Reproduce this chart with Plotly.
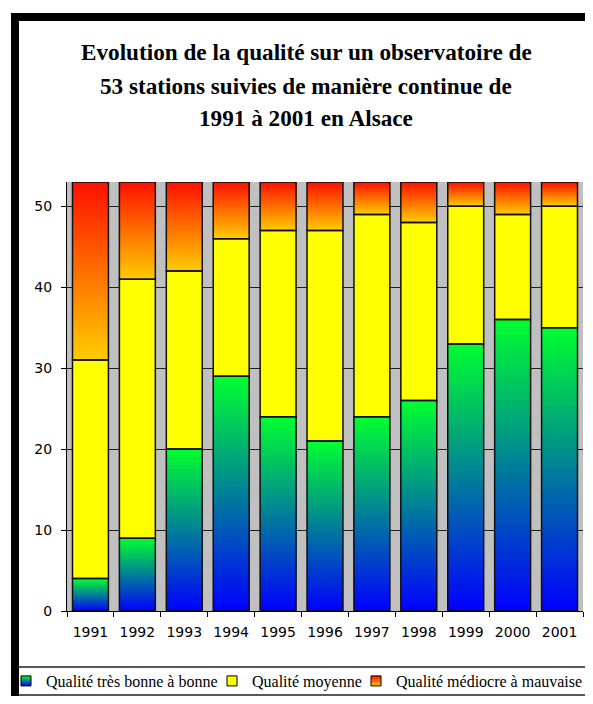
import plotly.graph_objects as go

years = ["1991", "1992", "1993", "1994", "1995", "1996", "1997", "1998", "1999", "2000", "2001"]
good = [4, 9, 20, 29, 24, 21, 24, 26, 33, 36, 35]
medium = [27, 32, 22, 17, 23, 26, 25, 22, 17, 13, 15]
poor = [22, 12, 11, 7, 6, 6, 4, 5, 3, 4, 3]
names = ["Qualité très bonne à bonne", "Qualité moyenne", "Qualité médiocre à mauvaise"]
title_lines = ["Evolution de la qualité sur un observatoire de",
               "53 stations suivies de manière continue de",
               "1991 à 2001 en Alsace"]

# page has an 8px body margin: figure is drawn at (8, 8); keep it inside the window
OFF = 8
W, H = 593 - OFF, 704 - 2 * OFF
L = 67 - OFF
R = W - (583 - OFF)
T = 182 - OFF
B = H - (611 - OFF)
PW, PH = W - L - R, H - T - B


def px(x):
    return ((x - OFF) - L) / PW


def py(y):
    return (H - B - (y - OFF)) / PH


def lerp(c0, c1, t):
    return "rgb(%d,%d,%d)" % tuple(round(a + (b - a) * t) for a, b in zip(c0, c1))


# gradient endpoints (bottom colour, top colour) for each series
grads = [((0, 0, 255), (0, 255, 48)),
         ((255, 255, 0), (255, 255, 0)),
         ((255, 204, 0), (255, 16, 0))]

bases = [[0] * len(years), good[:], [g + m for g, m in zip(good, medium)]]
series = [good, medium, poor]

fig = go.Figure()
N = 40
for s, (vals, base, (c0, c1)) in enumerate(zip(series, bases, grads)):
    steps = N if c0 != c1 else 1
    for k in range(steps):
        f = k / steps
        fig.add_trace(go.Bar(
            x=years,
            y=[v * (1 - f) for v in vals],
            base=[b + v * f for b, v in zip(base, vals)],
            marker=dict(color=lerp(c0, c1, (k + 0.5) / steps), line=dict(width=0)),
            showlegend=False, hoverinfo="skip"))

for vals, base, name in zip(series, bases, names):
    fig.add_trace(go.Bar(
        x=years, y=vals, base=base, name=name,
        marker=dict(color="rgba(0,0,0,0)", line=dict(color="#101010", width=1.5)),
        showlegend=False))

# legend entries
legend_x = [6, 212, 356]
for i, ((c0, c1), name) in enumerate(zip(grads, names)):
    lname = "legend" if i == 0 else "legend%d" % (i + 1)
    fig.add_trace(go.Scatter(
        x=[None], y=[None], mode="markers", name=name, legend=lname,
        marker=dict(symbol="square", size=10,
                    color="rgb(%d,%d,%d)" % c1,
                    gradient=dict(type="vertical", color="rgb(%d,%d,%d)" % c0),
                    line=dict(color="black", width=1))))

legend_common = dict(orientation="h", yanchor="middle", xanchor="left",
                     y=py(681), bgcolor="rgba(0,0,0,0)",
                     font=dict(family="Liberation Serif", size=16, color="black"),
                     itemwidth=30)

annotations = []
for ln, yy in zip(title_lines, [52, 86, 118]):
    annotations.append(dict(text=ln, xref="paper", yref="paper", x=px(306), y=py(yy),
                            xanchor="center", yanchor="middle", showarrow=False,
                            font=dict(family="Liberation Serif", size=23.2, color="black",
                                      weight="bold")))

shapes = [
    dict(type="rect", xref="paper", yref="paper", x0=px(11), x1=px(593), y0=py(21), y1=py(13),
         fillcolor="black", line=dict(width=0), layer="above"),
    dict(type="rect", xref="paper", yref="paper", x0=px(11), x1=px(19), y0=py(696), y1=py(13),
         fillcolor="black", line=dict(width=0), layer="above"),
    dict(type="line", xref="paper", yref="paper", x0=px(19), x1=px(593), y0=py(667), y1=py(667),
         line=dict(color="#202020", width=1.5)),
    dict(type="line", xref="paper", yref="paper", x0=px(19), x1=px(593), y0=py(695), y1=py(695),
         line=dict(color="#202020", width=1.5)),
]

fig.update_layout(
    width=W, height=H,
    margin=dict(l=L, r=R, t=T, b=B, autoexpand=False),
    paper_bgcolor="white", plot_bgcolor="#C0C0C0",
    barmode="overlay", bargap=0.234,
    font=dict(family="DejaVu Sans", size=14, color="black"),
    annotations=annotations, shapes=shapes,
    legend=dict(legend_common, x=px(legend_x[0])),
    legend2=dict(legend_common, x=px(legend_x[1])),
    legend3=dict(legend_common, x=px(legend_x[2])),
    xaxis=dict(type="category", tickson="boundaries", ticks="outside", ticklen=5,
               tickcolor="black", showline=True, linecolor="black", linewidth=1,
               showgrid=False, ticklabelstandoff=8,
               tickfont=dict(family="DejaVu Sans", size=14)),
    yaxis=dict(range=[0, 53], dtick=10, ticks="outside", ticklen=5, tickcolor="black",
               showline=True, linecolor="black", linewidth=1, ticklabelstandoff=6,
               showgrid=True, gridcolor="#202020", gridwidth=1, zeroline=False,
               tickfont=dict(family="DejaVu Sans", size=14)),
)

fig.write_html("out.html")
